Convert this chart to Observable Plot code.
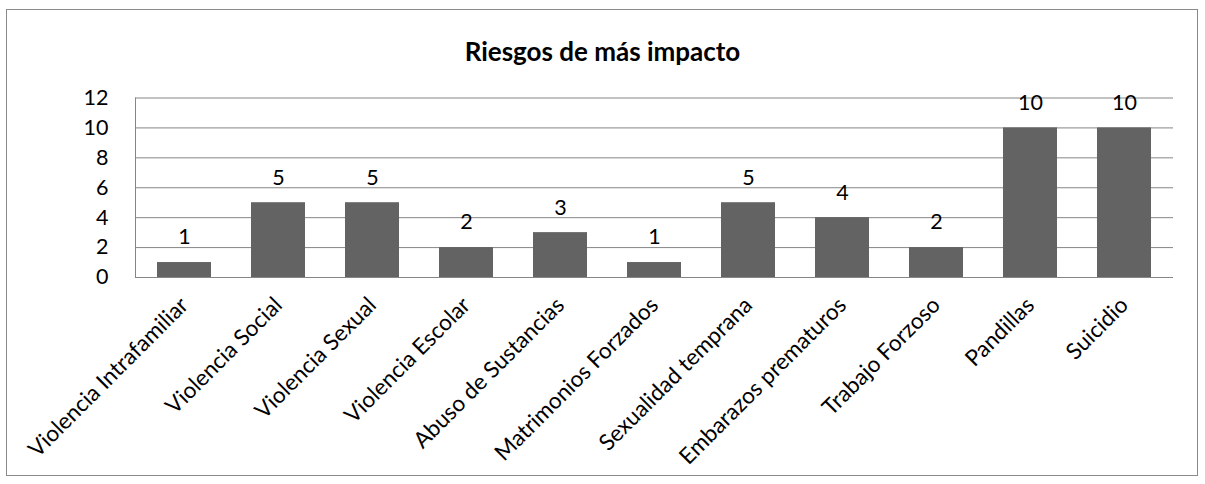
<!DOCTYPE html>
<html><head><meta charset="utf-8">
<script src="https://cdn.jsdelivr.net/npm/d3@7"></script>
<script src="https://cdn.jsdelivr.net/npm/@observablehq/plot@0.6"></script>
<style>
body{margin:0;background:#fff;font-family:Lato,sans-serif}
#wrap{position:relative;width:1205px;height:484px;overflow:hidden}
#frame{position:absolute;left:6px;top:9px;width:1192px;height:467px;border:1px solid #8a8a8a;box-sizing:border-box}
#title{position:absolute;left:0;width:1205px;top:36px;text-align:center;font-weight:bold;font-size:26px;color:#000;line-height:30px}
#chart{position:absolute;left:0;top:0}
</style></head>
<body><div id="wrap"><div id="frame"></div><div id="title"></div><div id="chart"></div></div>
<script>
const titleText = "Riesgos de más impacto";
const categories = ["Violencia Intrafamiliar","Violencia Social","Violencia Sexual","Violencia Escolar","Abuso de Sustancias","Matrimonios Forzados","Sexualidad temprana","Embarazos prematuros","Trabajo Forzoso","Pandillas","Suicidio"];
const values = [1,5,5,2,3,1,5,4,2,10,10];
const yTicks = [0,2,4,6,8,10,12];

const data = categories.map((c,i)=>({category:c, value:values[i]}));
document.getElementById("title").textContent = titleText;

const plot = Plot.plot({
  width:1205, height:484,
  marginTop:97.5, marginBottom:207, marginLeft:135, marginRight:32,
  style:{fontFamily:"Lato, sans-serif", fontSize:"21px", color:"#000", background:"transparent", overflow:"visible"},
  x:{domain:categories, paddingInner:0.43, paddingOuter:0.215, label:null},
  y:{domain:[0,12], ticks:yTicks, label:null},
  marks:[
    Plot.gridY(yTicks, {stroke:"#868686", strokeOpacity:1, strokeWidth:1}),
    Plot.frame({anchor:"left", stroke:"#868686", strokeWidth:1}),
    Plot.barY(data, {x:"category", y:"value", fill:"#636363"}),
    Plot.axisY(yTicks, {tickSize:0, tickPadding:27, fontSize:21.5, label:null}),
    Plot.axisX({tickSize:0, tickRotate:-45, tickPadding:24, fontSize:22.5, label:null}),
    Plot.text(data, {x:"category", y:"value", text:d=>String(d.value), dy:-25, fontSize:21.5, fill:"#000"})
  ]
});
document.getElementById("chart").appendChild(plot);
</script>
</body></html>
